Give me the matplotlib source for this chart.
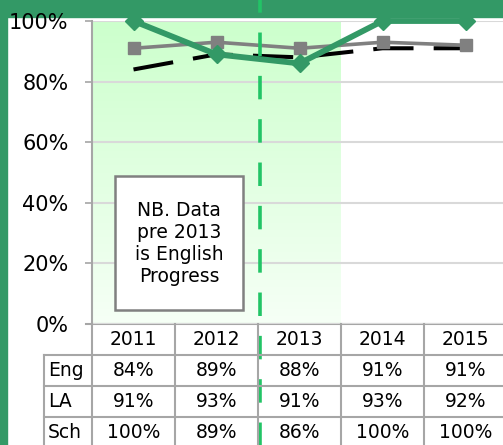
import matplotlib.pyplot as plt
import numpy as np
from matplotlib.colors import LinearSegmentedColormap
from matplotlib.patches import Rectangle

YEARS = ['2011', '2012', '2013', '2014', '2015']
ENG = [84, 89, 88, 91, 91]
LA = [91, 93, 91, 93, 92]
SCH = [100, 89, 86, 100, 100]
ROWS = [('Eng', ENG), ('LA', LA), ('Sch', SCH)]

GREEN = '#339966'
GRID = '#d9d9d9'
LINE = '#a6a6a6'

plt.rcParams['font.family'] = 'DejaVu Sans'

fig = plt.figure(figsize=(5.03, 4.45), dpi=100)
fig.patch.set_facecolor('white')

# green frame pieces (top and left)
fig.add_artist(Rectangle((0, 1 - 17 / 445), 1, 17 / 445, transform=fig.transFigure,
                         color=GREEN, zorder=-1))
fig.add_artist(Rectangle((0, 0), 7 / 503, 1, transform=fig.transFigure,
                         color=GREEN, zorder=-1))

ax = fig.add_axes([92 / 503, 121 / 445, 415 / 503, 303 / 445])
ax.patch.set_alpha(0)
x = np.arange(len(YEARS))
ax.set_xlim(-0.5, 4.5)
ax.set_ylim(0, 1)

# shaded "pre 2013" region with vertical gradient
cmap = LinearSegmentedColormap.from_list('g', ['#f6fff6', '#ccffcc'])
grad = np.linspace(0, 1, 256).reshape(-1, 1)
ax.imshow(grad, cmap=cmap, extent=(-0.5, 2.5, 0, 1), origin='lower',
          aspect='auto', zorder=0)

ax.set_yticks(np.arange(0, 1.01, 0.2))
ax.set_yticklabels([f'{int(round(v * 100))}%' for v in np.arange(0, 1.01, 0.2)])
ax.yaxis.grid(True, color=GRID, lw=1.5, zorder=0.5)
ax.set_xticks([])
ax.tick_params(axis='y', length=5, width=1.2, color=LINE, pad=12, labelsize=15)
for s in ['top', 'right', 'bottom']:
    ax.spines[s].set_visible(False)
ax.spines['left'].set_color(LINE)
ax.spines['left'].set_linewidth(1.5)
ax.axhline(0, color=LINE, lw=1.5, xmin=-0.015, clip_on=False, zorder=1)

ax.plot(x, np.array(ENG) / 100, color='black', lw=2.9, ls=(0, (10, 5)),
        zorder=3, clip_on=False)
ax.plot(x, np.array(LA) / 100, color='#808080', lw=2.6, marker='s', ms=9,
        zorder=4, clip_on=False)
ax.plot(x, np.array(SCH) / 100, color=GREEN, lw=4.2, marker='D', ms=9,
        zorder=5, clip_on=False)

ax.axvline(1.52, ymin=-0.42, ymax=1.08, color='#22c466', lw=2.6,
           ls=(0, (6.5, 5.5)), zorder=6, clip_on=False)

# note box
ax.add_patch(Rectangle((-0.223, 0.046), 1.542, 0.442, facecolor='white',
                       edgecolor='#808080', lw=1.8, zorder=7))
ax.text(0.548, 0.267, 'NB. Data\npre 2013\nis English\nProgress', ha='center',
        va='center', fontsize=13.5, linespacing=1.2, zorder=8)

# data table under the chart
tax = fig.add_axes([92 / 503, 0, 415 / 503, 121 / 445])
tax.set_xlim(-0.5, 4.5)
tax.set_ylim(121 / 31, 0)
tax.axis('off')
lab_left = -0.5 - 48 / 83
for xb in np.arange(-0.5, 4.6, 1):
    tax.plot([xb, xb], [0, 4], color=LINE, lw=1.5, clip_on=False)
tax.plot([lab_left, lab_left], [1, 4], color=LINE, lw=1.5, clip_on=False)
for yb in [1, 2, 3]:
    tax.plot([lab_left, 4.6], [yb, yb], color=LINE, lw=1.5, clip_on=False)
for i, yr in enumerate(YEARS):
    tax.text(i, 0.5, yr, ha='center', va='center', fontsize=13.5)
for r, (name, vals) in enumerate(ROWS):
    tax.text(lab_left + 0.05, r + 1.5, name, ha='left', va='center', fontsize=13.5)
    for i, v in enumerate(vals):
        tax.text(i, r + 1.5, f'{v}%', ha='center', va='center', fontsize=13.5)

fig.savefig('out.png', dpi=100)
